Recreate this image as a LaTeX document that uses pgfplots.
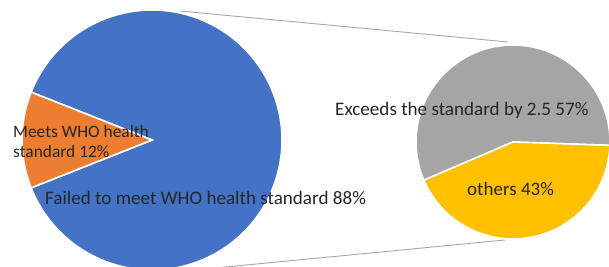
\documentclass[border=0pt]{standalone}
\usepackage{pgfplots}
\pgfplotsset{compat=1.18}
\usepackage{fontspec}
\setmainfont{Carlito}
\definecolor{cblue}{HTML}{4472C4}
\definecolor{corange}{HTML}{ED7D31}
\definecolor{cgray}{HTML}{A5A5A5}
\definecolor{cyellow}{HTML}{FFC000}
\definecolor{ctext}{HTML}{262626}
\definecolor{cline}{HTML}{A6A6A6}
% data (percent)
\def\vFailed{88}
\def\vMeets{12}
\def\vExceeds{57}
\def\vOthers{43}
\begin{document}
\begin{tikzpicture}
\useasboundingbox (0,0) rectangle (609pt,267pt);
\clip (0,0) rectangle (609pt,267pt);
\begin{axis}[
  width=609pt, height=267pt, scale only axis,
  xmin=0, xmax=609, ymin=0, ymax=267,
  hide axis, clip=false,
]
\pgfmathsetmacro{\oA}{180-\vMeets*1.8}
\pgfmathsetmacro{\oB}{180+\vMeets*1.8}
\pgfmathsetmacro{\bB}{\oA+360}
\pgfmathsetmacro{\gA}{-2}
\pgfmathsetmacro{\gB}{\gA+\vExceeds*3.6}
\pgfmathsetmacro{\yB}{\gB+\vOthers*3.6}
% connector lines
\draw[cline, line width=0.9pt] (axis cs:180,256) -- (axis cs:508,225);
\draw[cline, line width=0.9pt] (axis cs:210,-1.5) -- (axis cs:505,27);
% main pie
\fill[cblue, draw=white, line width=1.6pt] (axis cs:152,127) -- ++(\oB:130pt) arc[start angle=\oB, end angle=\bB, radius=130pt] -- cycle;
\fill[corange, draw=white, line width=1.6pt] (axis cs:152,127) -- ++(\oA:130pt) arc[start angle=\oA, end angle=\oB, radius=130pt] -- cycle;
% secondary pie
\fill[cgray, draw=white, line width=1.6pt] (axis cs:513,125) -- ++(\gA:97pt) arc[start angle=\gA, end angle=\gB, radius=97pt] -- cycle;
\fill[cyellow, draw=white, line width=1.6pt] (axis cs:513,125) -- ++(\gB:97pt) arc[start angle=\gB, end angle=\yB, radius=97pt] -- cycle;
% labels
\node[anchor=base west, text=ctext, font=\fontsize{17.4}{20}\selectfont, inner sep=0pt] at (axis cs:13,129.5) {Meets WHO health};
\node[anchor=base west, text=ctext, font=\fontsize{17.4}{20}\selectfont, inner sep=0pt] at (axis cs:13,109.5) {standard \vMeets\%};
\node[anchor=base west, text=ctext, font=\fontsize{19.1}{22}\selectfont, inner sep=0pt] at (axis cs:45,62) {Failed to meet WHO health standard \vFailed\%};
\node[anchor=base west, text=ctext, font=\fontsize{19.1}{22}\selectfont, inner sep=0pt] at (axis cs:335,151) {Exceeds the standard by 2.5 \vExceeds\%};
\node[anchor=base west, text=ctext, font=\fontsize{19}{22}\selectfont, inner sep=0pt] at (axis cs:467,71.3) {others \vOthers\%};
\end{axis}
\end{tikzpicture}
\end{document}
